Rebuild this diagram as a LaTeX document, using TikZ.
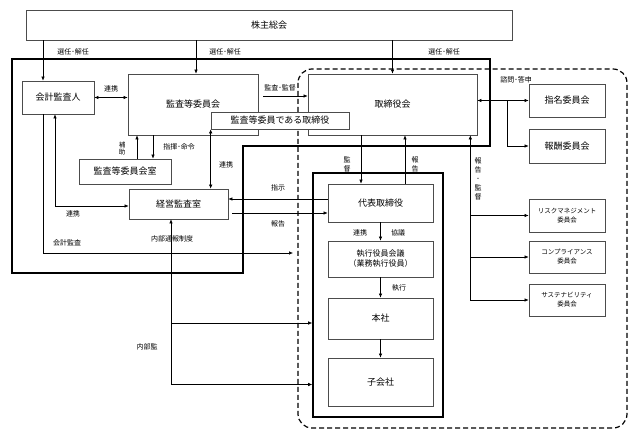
\documentclass[tikz,border=0pt]{standalone}
\usepackage{fontspec}
\setmainfont{Noto Sans CJK JP}
\usetikzlibrary{arrows.meta,calc}
\tikzset{
  unit/.style={draw=black!70,line width=0.7pt,fill=white,align=center,inner sep=1pt,font=\fontsize{9}{11}\selectfont},
  cmt/.style={font=\fontsize{6.5}{9}\selectfont},
  lbl/.style={inner sep=0pt,align=center,font=\fontsize{7}{9}\selectfont},
  arr/.style={-{Latex[length=4pt,width=3.5pt]},line width=0.6pt},
  dbl/.style={{Latex[length=4pt,width=3.5pt]}-{Latex[length=4pt,width=3.5pt]},line width=0.6pt},
  heavy/.style={line width=1.6pt},
  zone/.style={dash pattern=on 5pt off 3pt,line width=1.2pt,rounded corners=14pt},
}
\def\unitnode{\node[unit]}

\begin{document}
\begin{tikzpicture}[x=1pt,y=-1pt]
\useasboundingbox (0,0) rectangle (641,435);
\draw[zone] (298,69) rectangle (627,428);
\draw[heavy] (12,59) -- (490,59) -- (490,146) -- (243,146) -- (243,273) -- (12,273) -- cycle;
\node[heavy,draw,minimum width=130pt,minimum height=244pt] (shikkobu) at (378,295) {};

\unitnode[minimum width=486pt,minimum height=30pt] (soukai) at (269,25) {株主総会};
\unitnode[minimum width=72pt,minimum height=33pt] (kaikei) at (58,97.5) {会計監査人};
\unitnode[minimum width=130pt,minimum height=61pt] (kansa) at (193,104.5) {監査等委員会};
\unitnode[minimum width=169pt,minimum height=61pt] (torishimari) at (392.5,104.5) {取締役会};
\unitnode[minimum width=138pt,minimum height=17pt] (kansatori) at (280,120.5) {監査等委員である取締役};
\unitnode[minimum width=92pt,minimum height=25pt] (kanshitsu) at (125,171.5) {監査等委員会室};
\unitnode[minimum width=99pt,minimum height=30pt] (keiei) at (178.5,204) {経営監査室};
\unitnode[minimum width=105pt,minimum height=38pt] (daihyo) at (380.5,203) {代表取締役};
\unitnode[minimum width=105pt,minimum height=36pt,font=\fontsize{8}{10}\selectfont] (shikko) at (380.5,259) {執行役員会議\\（業務執行役員）};
\unitnode[minimum width=105pt,minimum height=41pt] (honsha) at (380.5,318.5) {本社};
\unitnode[minimum width=105pt,minimum height=48pt] (kogaisha) at (380.5,382) {子会社};
\unitnode[minimum width=76pt,minimum height=33pt] (shimei) at (567,100.5) {指名委員会};
\unitnode[minimum width=76pt,minimum height=34pt] (hoshu) at (567,146) {報酬委員会};
\unitnode[cmt,minimum width=76pt,minimum height=33pt] (risk) at (567,215.5) {リスクマネジメント\\委員会};
\unitnode[cmt,minimum width=76pt,minimum height=32pt] (compl) at (567,257) {コンプライアンス\\委員会};
\unitnode[cmt,minimum width=76pt,minimum height=32pt] (sustain) at (567,300) {サステナビリティ\\委員会};

\coordinate (k1) at ([xshift=-15pt]kaikei.south);
\coordinate (k2) at ([xshift=-3pt]kaikei.south);
\coordinate (s1) at ([xshift=-21pt]shimei.west);
\coordinate (rv) at ([xshift=-7pt]torishimari.south east);
\coordinate (kb) at ([xshift=-7.5pt]keiei.south);
\coordinate (kaudit) at (293,253);

\draw[arr] (soukai.south -| k1) -- (kaikei.north -| k1);
\draw[arr] ([xshift=3pt]kansa.north |- soukai.south) -- ([xshift=3pt]kansa.north);
\draw[arr] (torishimari.north |- soukai.south) -- (torishimari.north);
\draw[dbl] (kaikei.east) -- (kaikei.east -| kansa.west);
\draw[arr] ([xshift=5pt,yshift=8.5pt]kansa.east) -- ([yshift=8.5pt]torishimari.west);
\draw[dbl] (torishimari.east |- shimei.west) -- (shimei.west);
\draw[arr] (s1) |- (hoshu.west);
\draw[arr] ([xshift=12pt]kanshitsu.north) -- ([xshift=12pt]kanshitsu.north |- kansa.south);
\draw[arr] ([xshift=28pt]kanshitsu.north |- kansa.south) -- ([xshift=28pt]kanshitsu.north);
\draw[dbl] (kansatori.south west) -- (kansatori.south west |- keiei.north);
\draw[dbl] (k2) |- ([yshift=-2pt]keiei.west);
\draw[arr] (k1) |- (kaudit);
\draw[arr] ([yshift=4pt]daihyo.west) -- ([yshift=4pt]daihyo.west -| keiei.east);
\draw[arr] ([xshift=4pt,yshift=-10pt]keiei.east |- daihyo.west) -- ([yshift=-10pt]daihyo.west);
\draw[arr] ([xshift=-19.5pt]daihyo.north |- torishimari.south) -- ([xshift=-19.5pt]daihyo.north);
\draw[arr] ([xshift=24.5pt]daihyo.north) -- ([xshift=24.5pt]daihyo.north |- torishimari.south);
\draw[arr] (sustain.west -| rv) -- (rv);
\foreach \c in {risk,compl,sustain}
  \draw[arr] (\c.west -| rv) -- (\c.west);
\draw[arr] (daihyo) -- (shikko);
\draw[arr] (shikko) -- (honsha);
\draw[arr] (honsha) -- (kogaisha);
\draw[arr] ([yshift=-2.5pt]kb |- kogaisha.west) -- (kb);
\draw[arr] ([yshift=-4.5pt]kb |- honsha.west) -- ([yshift=-4.5pt]honsha.west -| shikkobu.west);
\draw[arr] ([yshift=-2.5pt]kb |- kogaisha.west) -- ([yshift=-2.5pt]kogaisha.west -| shikkobu.west);

\node[lbl] (sennin1) at (73,52) {選任･解任};
\node[lbl] (sennin2) at (225,52) {選任･解任};
\node[lbl] (sennin3) at (444,52) {選任･解任};
\node[lbl] (renkei1) at (111,89) {連携};
\node[lbl] (kansakantoku) at (280,88) {監査･監督};
\node[lbl] (shimon) at (516,80) {諮問･答申};
\node[lbl,font=\fontsize{6.5}{7.5}\selectfont] (hojo) at (122,148.5) {補\\助};
\node[lbl] (shiki) at (179,147) {指揮･命令};
\node[lbl] (renkei2) at (226,165) {連携};
\node[lbl] (renkei3) at (73,214) {連携};
\node[lbl] (kaikeikansa) at (67,243) {会計監査};
\node[lbl] (shiji) at (278,188) {指示};
\node[lbl] (houkoku1) at (278,224) {報告};
\node[lbl] (tsuho) at (172,239) {内部通報制度};
\node[lbl] (naibu) at (147,347) {内部監};
\node[lbl] (kantoku) at (347,164.5) {監\\督};
\node[lbl] (houkoku2) at (415,164.5) {報\\告};
\node[lbl] (houkoku3) at (478,178.5) {報\\告\\･\\監\\督};
\node[lbl] (renkei4) at (360,233) {連携};
\node[lbl] (kyogi) at (398,233) {協議};
\node[lbl] (shikkol) at (399,288) {執行};
\end{tikzpicture}
\end{document}
